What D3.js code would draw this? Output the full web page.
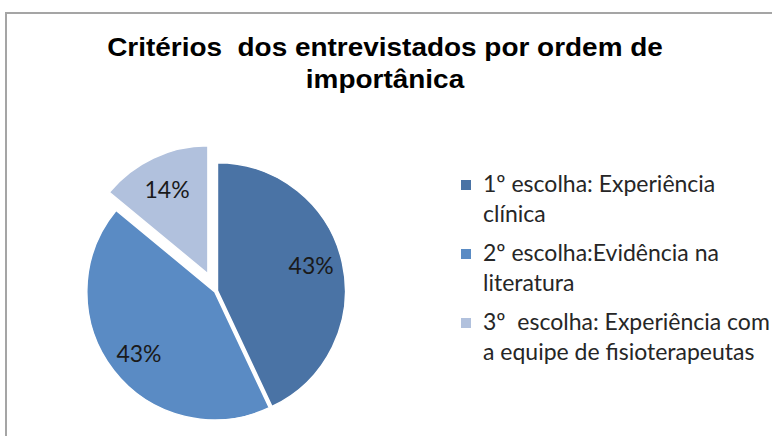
<!DOCTYPE html>
<html>
<head>
<meta charset="utf-8">
<script src="https://cdn.jsdelivr.net/npm/d3@7"></script>
<style>
  body { margin: 0; background: #fff; }
  svg { display: block; }
  text { white-space: pre; }
</style>
</head>
<body>
<div id="chart"></div>
<script>
// dados
const categorias = [
    ["1º escolha: Experiência", "clínica"],
    ["2º escolha:Evidência na", "literatura"],
    ["3º  escolha: Experiência com", "a equipe de fisioterapeutas"]
];
const valores = [43, 43, 14];
const rotulos = ["43%", "43%", "14%"];
const cores = ["#4a73a5", "#5a8bc4", "#b1c1dd"];
const titulo = ["Critérios  dos entrevistados por ordem de", "importânica"];

const width = 772;
const height = 436;
const raio = 128;
const centro = { x: 216, y: 291 };
const explode = [1.5, 1.5, 19]; // deslocamento de cada fatia

const svg = d3.select("#chart")
    .append("svg")
    .attr("width", width)
    .attr("height", height);

// borda da área do gráfico
svg.append("path")
    .attr("d", `M6,${height} L6,13 L${width},13`)
    .attr("fill", "none")
    .attr("stroke", "#a5a5a5")
    .attr("stroke-width", 2);

// título (um pouco mais largo que a fonte disponível)
const gTitulo = svg.append("g")
    .attr("transform", "translate(385,0)");
const tTitulo = gTitulo.append("text")
    .attr("text-anchor", "middle")
    .attr("font-family", "Liberation Sans, Arial, sans-serif")
    .attr("font-weight", "bold")
    .attr("font-size", 25)
    .attr("fill", "#000");
tTitulo.selectAll("tspan")
    .data(titulo)
    .enter()
    .append("tspan")
    .attr("x", 0)
    .attr("y", (d, i) => 56 + i * 32)
    .text(d => d);
const larguraTitulo = tTitulo.select("tspan").node().getComputedTextLength();
tTitulo.attr("transform", `scale(${556 / larguraTitulo},1)`);

const pie = d3.pie().sort(null).value(d => d);
const arcs = pie(valores);
const arc = d3.arc().innerRadius(0).outerRadius(raio);
const arcRotulo = d3.arc().innerRadius(raio * 0.75).outerRadius(raio * 0.75);

const g = svg.append("g")
    .attr("transform", `translate(${centro.x},${centro.y})`);

const fatias = g.selectAll(".fatia")
    .data(arcs)
    .enter()
    .append("g")
    .attr("class", "fatia")
    .attr("transform", (d, i) => {
        const a = (d.startAngle + d.endAngle) / 2;
        return `translate(${Math.sin(a) * explode[i]},${-Math.cos(a) * explode[i]})`;
    });

fatias.append("path")
    .attr("d", arc)
    .attr("fill", (d, i) => cores[i])
    .attr("stroke", "#fff")
    .attr("stroke-width", 1.5);

fatias.append("text")
    .attr("transform", d => `translate(${arcRotulo.centroid(d)})`)
    .attr("dy", (d, i) => i === 0 ? -5 : 2)
    .attr("text-anchor", "middle")
    .attr("dominant-baseline", "central")
    .attr("font-family", "Lato, Carlito, Calibri, sans-serif")
    .attr("font-size", 23)
    .attr("fill", "#1a1a1a")
    .text((d, i) => rotulos[i]);

// legenda
const legenda = svg.append("g")
    .selectAll(".item")
    .data(categorias)
    .enter()
    .append("g")
    .attr("class", "item")
    .attr("transform", (d, i) => `translate(461,${180 + i * 69})`);

legenda.append("rect")
    .attr("width", 10)
    .attr("height", 10)
    .attr("fill", (d, i) => cores[i]);

legenda.append("text")
    .attr("font-family", "Lato, Carlito, Calibri, sans-serif")
    .attr("font-size", 23)
    .attr("fill", "#262626")
    .selectAll("tspan")
    .data(d => d)
    .enter()
    .append("tspan")
    .attr("x", 22)
    .attr("y", (d, i) => 12 + i * 30)
    .text(d => d);
</script>
</body>
</html>
